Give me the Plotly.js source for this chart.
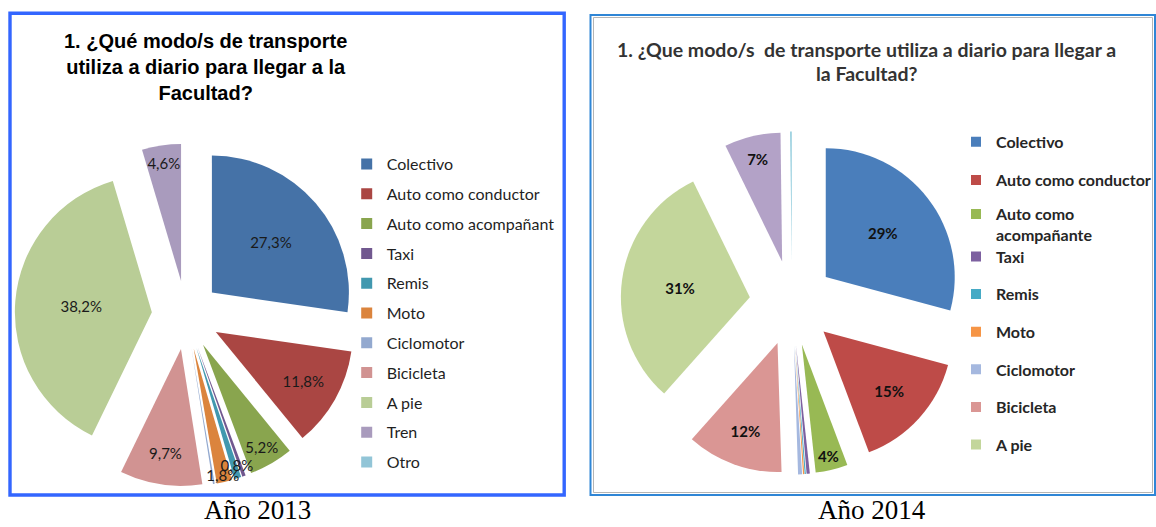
<!DOCTYPE html>
<html>
<head>
<meta charset="utf-8">
<script src="https://cdn.plot.ly/plotly-3.0.1.min.js"></script>
<style>
html,body{margin:0;padding:0;background:#ffffff;}
#chart{width:1156px;height:527px;}
</style>
</head>
<body>
<div id="chart"></div>
<script>
// ---- data ----
const categories = ['Colectivo','Auto como conductor','Auto como acompañante','Taxi','Remis','Moto','Ciclomotor','Bicicleta','A pie','Tren','Otro'];
const values2013 = [27.3, 11.8, 5.2, 0.4, 0.8, 1.8, 0.2, 9.7, 38.2, 4.6, 0];
const values2014 = [29, 15, 4, 0.4, 0.15, 0.15, 0.5, 12, 31, 7, 0.2];
const legendLabels2013 = ['Colectivo','Auto como conductor','Auto como acompañant','Taxi','Remis','Moto','Ciclomotor','Bicicleta','A pie','Tren','Otro'];
const legendLabels2014 = ['Colectivo','Auto como conductor','Auto como<br>acompañante','Taxi','Remis','Moto','Ciclomotor','Bicicleta','A pie'];
const title2013 = '1. ¿Qué modo/s de transporte<br>utiliza a diario para llegar a la<br>Facultad?';
const title2014Line1 = '1. ¿Que modo/s  de transporte utiliza a diario para llegar a';
const title2014Line2 = 'la Facultad?';
const caption2013 = 'Año 2013';
const caption2014 = 'Año 2014';

// ---- styles ----
const colors2013 = ['#4572A7','#AA4643','#89A54E','#71588F','#4198AF','#DB843D','#93A9CF','#D19392','#B9CD96','#A99BBD','#92C5D7'];
const colors2014 = ['#4A7EBB','#BE4B48','#98B954','#7D60A0','#46AAC5','#F69546','#A5B8DF','#DA9694','#C3D69B','#B3A2C7','#93CDDD'];
const textpos2013 = ['inside','inside','inside','none','inside','inside','none','inside','inside','inside','none'];
const textpos2014 = ['inside','inside','inside','none','none','none','none','inside','inside','inside','none'];
const legendOf2014 = ['legend2','legend2','legend4','legend3','legend3','legend3','legend3','legend3','legend3'];

const text2013 = values2013.map(v => v.toFixed(1).replace('.', ',') + '%')
  .map((t, i) => i === 4 ? t + '<br>\u00a0' : t);   // lift the "0,8%" label a little above "1,8%"
const text2014 = values2014.map(v => Math.round(v) + '%');

const W = 1156, H = 527;
const px = x => x / W;
const py = y => 1 - y / H;

const dom2013 = {x: [px(14.75), px(357.25)], y: [py(486.25), py(143.75)]};
const dom2014 = {x: [px(620.5), px(963.5)], y: [py(474.5), py(131.5)]};

const traces = [];
// 2013 slices
traces.push({
  type: 'pie', labels: categories, values: values2013, textinfo: 'none',
  sort: false, direction: 'clockwise', rotation: 0, pull: 0.25,
  marker: {colors: colors2013, line: {width: 0}},
  domain: dom2013, showlegend: false, hoverinfo: 'label+percent'
});
// 2013 labels, drawn over every slice (same geometry, transparent fill)
traces.push({
  type: 'pie', labels: categories, values: values2013, text: text2013, textinfo: 'text',
  sort: false, direction: 'clockwise', rotation: 0, pull: 0.25,
  marker: {colors: categories.map(() => 'rgba(0,0,0,0)'), line: {width: 0}},
  domain: dom2013, textposition: textpos2013, insidetextorientation: 'horizontal',
  insidetextfont: {family: 'Lato', size: 15, color: '#1a1a1a'},
  showlegend: false, hoverinfo: 'none'
});
// 2014
traces.push({
  type: 'pie', labels: categories, values: values2014, text: text2014, textinfo: 'text',
  sort: false, direction: 'clockwise', rotation: 0, pull: 0.33,
  marker: {colors: colors2014, line: {width: 0}},
  domain: dom2014, textposition: textpos2014, insidetextorientation: 'horizontal',
  insidetextfont: {family: 'Lato', size: 15, color: '#111111', weight: 'bold'},
  showlegend: false, hoverinfo: 'label+percent'
});

legendLabels2013.forEach((name, i) => traces.push({
  type: 'scatter', x: [null], y: [null], mode: 'markers', name: name,
  marker: {symbol: 'square', size: 11, color: colors2013[i]},
  legend: 'legend', legendgroup: 'a' + i, showlegend: true, hoverinfo: 'skip'
}));
legendLabels2014.forEach((name, i) => traces.push({
  type: 'scatter', x: [null], y: [null], mode: 'markers', name: name,
  marker: {symbol: 'square', size: 10, color: colors2014[i]},
  legend: legendOf2014[i], legendgroup: 'b' + i, showlegend: true, hoverinfo: 'skip'
}));

const legendBase = {xanchor: 'left', yanchor: 'top', traceorder: 'grouped', bgcolor: 'rgba(0,0,0,0)', borderwidth: 0, itemclick: false, itemdoubleclick: false};
const font2014Legend = {family: 'Lato', size: 16, color: '#262626', weight: 'bold'};

const layout = {
  width: W, height: H,
  margin: {l: 0, r: 0, t: 0, b: 0, pad: 0, autoexpand: false},
  paper_bgcolor: '#ffffff', plot_bgcolor: 'rgba(0,0,0,0)',
  xaxis: {visible: false}, yaxis: {visible: false},
  hovermode: false,
  uniformtext: {mode: 'show', minsize: 15},
  legend: Object.assign({}, legendBase, {x: px(346.7), y: py(147.1), tracegroupgap: 6.0,
    font: {family: 'Lato', size: 16, color: '#1f1f1f'}}),
  legend2: Object.assign({}, legendBase, {x: px(956), y: py(124.8), tracegroupgap: 14.5, font: font2014Legend}),
  legend4: Object.assign({}, legendBase, {x: px(956), y: py(197.2), valign: 'top', font: font2014Legend}),
  legend3: Object.assign({}, legendBase, {x: px(956), y: py(239.6), tracegroupgap: 13.8, font: font2014Legend}),
  shapes: [
    {type: 'rect', xref: 'paper', yref: 'paper', x0: px(10), x1: px(564.2), y0: py(495), y1: py(13.3),
     line: {color: '#3366ff', width: 3.4}, fillcolor: 'rgba(0,0,0,0)', layer: 'above'},
    {type: 'rect', xref: 'paper', yref: 'paper', x0: px(590.5), x1: px(1155), y0: py(495), y1: py(15),
     line: {color: '#2f86d6', width: 2}, fillcolor: 'rgba(0,0,0,0)', layer: 'above'},
    {type: 'rect', xref: 'paper', yref: 'paper', x0: px(593.5), x1: px(1152.5), y0: py(492.5), y1: py(17.5),
     line: {color: '#b5b5b5', width: 1}, fillcolor: 'rgba(0,0,0,0)', layer: 'above'}
  ],
  annotations: [
    {text: title2013, xref: 'paper', yref: 'paper', x: px(205), y: py(67.5), xanchor: 'center', yanchor: 'middle',
     showarrow: false, align: 'center', font: {family: 'Liberation Sans', size: 20, color: '#000000', weight: 'bold'}},
    {text: title2014Line1, xref: 'paper', yref: 'paper', x: px(866.5), y: py(49), xanchor: 'center', yanchor: 'middle',
     showarrow: false, font: {family: 'Lato', size: 19.5, color: '#333333', weight: 'bold'}},
    {text: title2014Line2, xref: 'paper', yref: 'paper', x: px(866.5), y: py(74), xanchor: 'center', yanchor: 'middle',
     showarrow: false, font: {family: 'Lato', size: 19.5, color: '#333333', weight: 'bold'}},
    {text: caption2013, xref: 'paper', yref: 'paper', x: px(257), y: py(510), xanchor: 'center', yanchor: 'middle',
     showarrow: false, borderpad: 0, font: {family: 'Liberation Serif', size: 27, color: '#000000'}},
    {text: caption2014, xref: 'paper', yref: 'paper', x: px(872), y: py(510), xanchor: 'center', yanchor: 'middle',
     showarrow: false, borderpad: 0, font: {family: 'Liberation Serif', size: 27, color: '#000000'}}
  ]
};

Plotly.newPlot('chart', traces, layout, {displayModeBar: false, staticPlot: true});
</script>
</body>
</html>
